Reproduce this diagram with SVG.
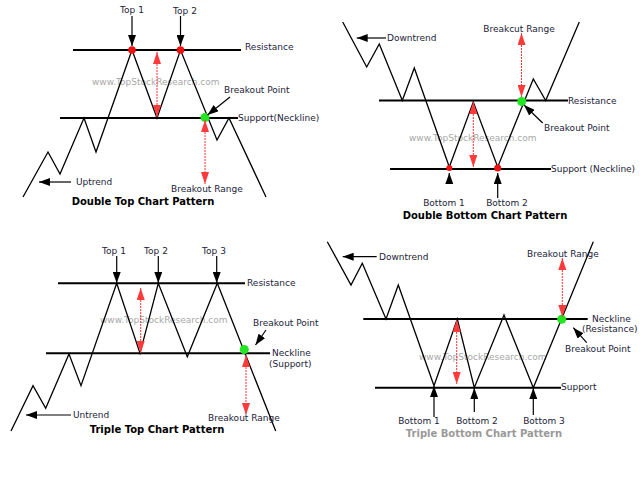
<svg xmlns="http://www.w3.org/2000/svg" width="640" height="480" viewBox="0 0 640 480">
<defs>
<style>
.lvl{stroke:#000;stroke-width:2;fill:none}
.px{stroke:#000;stroke-width:1.3;fill:none;stroke-linejoin:miter}
.lbl{font-family:"DejaVu Sans",Verdana,sans-serif;font-size:9px;fill:#1c1c38}
.wm{font-family:"DejaVu Sans",Verdana,sans-serif;font-size:9px;fill:#a8a8a8}
.ttl{font-family:"DejaVu Sans",Verdana,sans-serif;font-size:10px;font-weight:bold;fill:#000;text-anchor:middle}
.mid{text-anchor:middle}
.blk{stroke:#000;stroke-width:1.2;fill:none;marker-end:url(#ah)}
.red{stroke:#ff3030;stroke-width:1;stroke-dasharray:2 1;fill:none;marker-start:url(#rs);marker-end:url(#re)}
.rdot{fill:#ee1111}
.gdot{fill:#22e622}
</style>
<marker id="ah" markerUnits="userSpaceOnUse" markerWidth="11" markerHeight="8" refX="11" refY="4" orient="auto"><path d="M0,0 L11,4 L0,8 z" fill="#000"/></marker>
<marker id="re" markerUnits="userSpaceOnUse" markerWidth="12" markerHeight="8" refX="12" refY="4" orient="auto"><path d="M0,0 L12,4 L0,8 z" fill="#ff3a3a"/></marker>
<marker id="rs" markerUnits="userSpaceOnUse" markerWidth="12" markerHeight="8" refX="0" refY="4" orient="auto"><path d="M12,0 L0,4 L12,8 z" fill="#ff3a3a"/></marker>
</defs>
<rect width="640" height="480" fill="#fff"/>

<!-- Double Top -->
<g id="double-top">
<text class="wm" x="92" y="85">www.TopStockResearch.com</text>
<g id="dt-resistance"><line class="lvl" x1="73" y1="50" x2="241" y2="50"/><text class="lbl" x="245" y="50">Resistance</text></g>
<g id="dt-support"><line class="lvl" x1="60" y1="118" x2="238" y2="118"/><text class="lbl" x="238" y="121">Support(Neckline)</text></g>
<g id="dt-price"><polyline class="px" points="23,197 48,152 60,174 84,118 96,152 132,50 157,118 180.5,50 217,140 229,118 266,197"/></g>
<g id="dt-top1"><circle class="rdot" cx="132" cy="50" r="3.8"/><text class="lbl mid" x="132" y="13">Top 1</text></g>
<g id="dt-top2"><circle class="rdot" cx="180.5" cy="50" r="3.8"/><text class="lbl mid" x="185" y="14">Top 2</text></g>
<g id="dt-breakout"><circle class="gdot" cx="205" cy="117.5" r="4.5"/><text class="lbl" x="224" y="93">Breakout Point</text></g>
<g id="dt-uptrend"><text class="lbl" x="76" y="185">Uptrend</text></g>
<g id="dt-range"><text class="lbl" x="171" y="192">Breakout Range</text></g>
<g id="dt-title"><text class="ttl" x="143" y="205">Double Top Chart Pattern</text></g>
</g>

<!-- Double Bottom -->
<g id="double-bottom">
<text class="wm" x="409" y="141">www.TopStockResearch.com</text>
<g id="db-resistance"><line class="lvl" x1="379" y1="100.5" x2="568" y2="100.5"/><text class="lbl" x="568" y="104">Resistance</text></g>
<g id="db-support"><line class="lvl" x1="390" y1="169" x2="551" y2="169"/><text class="lbl" x="551" y="172">Support (Neckline)</text></g>
<g id="db-price"><polyline class="px" points="342.7,22 366.7,67 379.3,44 402.3,100.5 414.3,68 449.3,167 473.3,102 497.7,167 533.3,79 545.7,100.5 579.3,22"/></g>
<g id="db-bottom1"><circle class="rdot" cx="449.3" cy="168" r="3"/><text class="lbl mid" x="444" y="206">Bottom 1</text></g>
<g id="db-bottom2"><circle class="rdot" cx="497.7" cy="168" r="3.5"/><text class="lbl mid" x="507" y="206">Bottom 2</text></g>
<g id="db-breakout"><circle class="gdot" cx="521.7" cy="101.5" r="4.5"/><text class="lbl" x="544" y="131">Breakout Point</text></g>
<g id="db-downtrend"><text class="lbl" x="387" y="41">Downtrend</text></g>
<g id="db-range"><text class="lbl mid" x="519" y="32">Breakcut Range</text></g>
<g id="db-title"><text class="ttl" x="485" y="219">Double Bottom Chart Pattern</text></g>
</g>

<!-- Triple Top -->
<g id="triple-top">
<text class="wm" x="100" y="323">www.TopStockResearch.com</text>
<g id="tt-resistance"><line class="lvl" x1="58" y1="283.3" x2="245" y2="283.3"/><text class="lbl" x="247" y="286">Resistance</text></g>
<g id="tt-neckline"><line class="lvl" x1="46" y1="353.3" x2="270" y2="353.3"/><text class="lbl" x="272" y="356">Neckline</text><text class="lbl" x="269" y="367">(Support)</text></g>
<g id="tt-price"><polyline class="px" points="11,431 33,385.7 45.7,408.3 69,354 81,385.7 116.7,283.3 140,353.3 158.3,283.3 187.3,356.7 217.3,283.3 275.7,431"/></g>
<g id="tt-top1"><text class="lbl mid" x="114" y="254">Top 1</text></g>
<g id="tt-top2"><text class="lbl mid" x="156" y="254">Top 2</text></g>
<g id="tt-top3"><text class="lbl mid" x="214" y="254">Top 3</text></g>
<g id="tt-breakout"><circle class="gdot" cx="244.3" cy="349.5" r="4.5"/><text class="lbl" x="253" y="326">Breakout Point</text></g>
<g id="tt-untrend"><text class="lbl" x="73" y="418">Untrend</text></g>
<g id="tt-range"><text class="lbl" x="208" y="421">Breakout Range</text></g>
<g id="tt-title"><text class="ttl" x="157" y="433">Triple Top Chart Pattern</text></g>
</g>

<!-- Triple Bottom -->
<g id="triple-bottom">
<text class="wm" x="419" y="360">www.TopStockResearch.com</text>
<g id="tb-neckline"><line class="lvl" x1="363.3" y1="319" x2="587.7" y2="319"/><text class="lbl" x="592" y="322">Neckline</text><text class="lbl" x="582" y="332">(Resistance)</text></g>
<g id="tb-support"><line class="lvl" x1="375" y1="387.7" x2="561" y2="387.7"/><text class="lbl" x="561" y="390">Support</text></g>
<g id="tb-price"><polyline class="px" points="327.3,241.7 351,285 362.3,263.3 386,319 398.3,285 434,385.7 457.3,319 474.3,387.7 504,315 533.3,387.7 593.3,241.7"/></g>
<g id="tb-bottom1"><text class="lbl mid" x="419" y="424">Bottom 1</text></g>
<g id="tb-bottom2"><text class="lbl mid" x="477" y="424">Bottom 2</text></g>
<g id="tb-bottom3"><text class="lbl mid" x="544" y="424">Bottom 3</text></g>
<g id="tb-breakout"><circle class="gdot" cx="561.7" cy="319.3" r="4.5"/><text class="lbl" x="565" y="352">Breakout Point</text></g>
<g id="tb-downtrend"><text class="lbl" x="379" y="260">Downtrend</text></g>
<g id="tb-range"><text class="lbl" x="527" y="257">Breakout Range</text></g>
<g id="tb-title"><text class="ttl" x="484" y="437" style="fill:#999">Triple Bottom Chart Pattern</text></g>
</g>

<g id="connectors">
<!-- double top -->
<line class="blk" x1="132" y1="16" x2="132" y2="46"/>
<line class="blk" x1="180.5" y1="16" x2="180.5" y2="46"/>
<line class="blk" x1="230" y1="97" x2="207.5" y2="115"/>
<line class="blk" x1="71" y1="182" x2="39" y2="182"/>
<line class="red" x1="157" y1="52" x2="157" y2="117"/>
<line class="red" x1="205" y1="120" x2="205" y2="184"/>
<!-- double bottom -->
<line class="blk" x1="386" y1="38" x2="356.7" y2="38"/>
<line class="blk" x1="542.7" y1="123" x2="524" y2="105"/>
<line class="blk" x1="449.3" y1="184" x2="449.3" y2="173"/>
<line class="blk" x1="497.7" y1="198" x2="497.7" y2="173"/>
<line class="red" x1="473.3" y1="102" x2="473.3" y2="167"/>
<line class="red" x1="521.5" y1="33" x2="521.5" y2="97"/>
<!-- triple top -->
<line class="blk" x1="116.7" y1="256" x2="116.7" y2="283"/>
<line class="blk" x1="158.3" y1="256" x2="158.3" y2="283"/>
<line class="blk" x1="216.7" y1="256" x2="216.7" y2="283"/>
<line class="blk" x1="266" y1="330" x2="255.5" y2="345"/>
<line class="blk" x1="71" y1="415" x2="26" y2="415"/>
<line class="red" x1="140.7" y1="288" x2="140.7" y2="353"/>
<line class="red" x1="246" y1="355" x2="246" y2="415"/>
<!-- triple bottom -->
<line class="blk" x1="376.7" y1="256.7" x2="342.7" y2="256.7"/>
<line class="blk" x1="586.7" y1="342.7" x2="573.3" y2="327.7"/>
<line class="blk" x1="434" y1="417" x2="434" y2="386"/>
<line class="blk" x1="474.3" y1="412" x2="474.3" y2="388"/>
<line class="blk" x1="533.3" y1="415" x2="533.3" y2="388"/>
<line class="red" x1="456.7" y1="320" x2="456.7" y2="384"/>
<line class="red" x1="562.3" y1="258" x2="562.3" y2="317"/>
</g>
</svg>
